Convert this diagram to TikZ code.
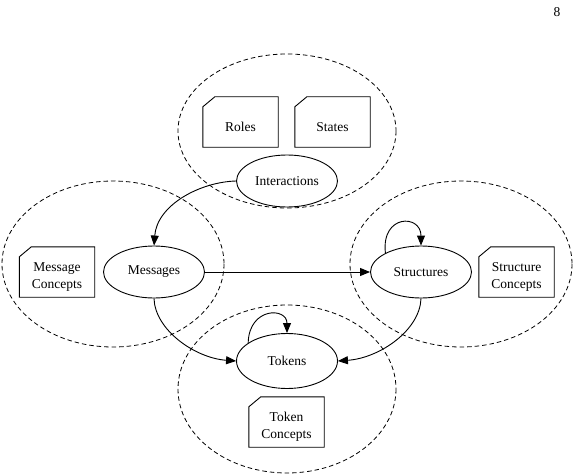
\documentclass[tikz,border=0pt]{standalone}
\usepackage{fontspec}
\setmainfont{Liberation Serif}
\usetikzlibrary{shapes.geometric,arrows.meta}
\tikzset{
  cluster/.style={draw, line width=0.8pt, dash pattern=on 4.5pt off 3pt},
  procnode/.style={draw, ellipse, line width=0.9pt, minimum width=101pt, minimum height=52pt, inner sep=0pt, font=\fontsize{13.5}{15}\selectfont},
  notebox/.style={minimum width=75pt, minimum height=50pt, inner sep=0pt, align=center, font=\fontsize{13.5}{17}\selectfont},
  noteline/.style={draw, line width=0.9pt},
  edge/.style={draw, line width=0.9pt, -{Triangle[length=10pt,width=8pt]}},
}
\newcommand\mynote[3]{%
  \node[notebox, yshift=-5pt] (#1) at (#2) {#3};
  \draw[noteline] ([yshift=5pt]#1.south west) -- ([yshift=-5pt]#1.north west) -- ([xshift=12pt,yshift=5pt]#1.north west) -- ([yshift=5pt]#1.north east) -- ([yshift=5pt]#1.south east) -- cycle;}
\begin{document}
\begin{tikzpicture}[x=1pt,y=-1pt]
\useasboundingbox (0,0) rectangle (575,476);
% clusters
\draw[cluster] (287,131) ellipse [x radius=109, y radius=77];
\draw[cluster] (113,264) ellipse [x radius=111, y radius=83];
\draw[cluster] (461,264) ellipse [x radius=111, y radius=83];
\draw[cluster] (287,389) ellipse [x radius=109, y radius=84];
% page number
\node[font=\fontsize{13.5}{15}\selectfont] (pg) at (557,12) {8};
% notes
\mynote{roles}{240.5,122}{Roles}
\mynote{states}{332.5,122}{States}
\mynote{msgc}{57,272}{Message\\Concepts}
\mynote{strc}{516.5,272}{Structure\\Concepts}
\mynote{tokc}{286.5,422}{Token\\Concepts}
% process nodes
\node[procnode] (int) at (287,181) {Interactions};
\node[procnode] (msg) at (154,272) {Messages};
\node[procnode] (str) at (421,272) {Structures};
\node[procnode, minimum height=55pt] (tok) at (287,361) {Tokens};
% edges
\draw[edge] (int.west) .. controls (200,182) and (157,205) .. (msg.north);
\draw[edge] (msg.east) -- (str.west);
\draw[edge] (msg.south) .. controls (155,330) and (195,358) .. (tok.west);
\draw[edge] (str.south) .. controls (420,330) and (380,358) .. (tok.east);
\draw[edge] (str.152) .. controls (381,214) and (421,214) .. (str.north);
\draw[edge] (tok.155) .. controls (249,307) and (287,307) .. (tok.north);
\end{tikzpicture}
\end{document}
